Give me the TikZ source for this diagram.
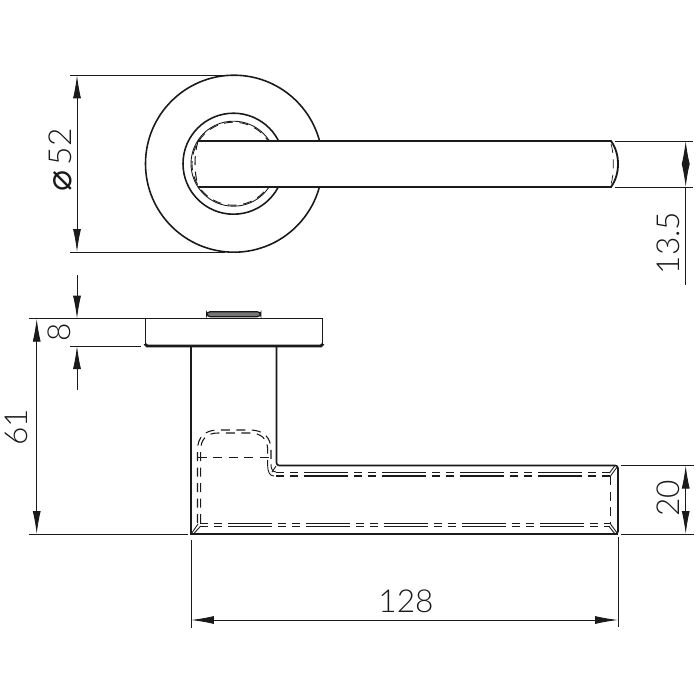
\documentclass[tikz,border=0pt]{standalone}
\usepackage{fontspec}
\setmainfont{Lato Light}
\newfontfamily\symfont{DejaVu Sans}
\usetikzlibrary{arrows.meta}
\definecolor{LINE_BLACK}{HTML}{1A1A1A}
\tikzset{
  outline/.style={line width=0.9pt, LINE_BLACK},
  hidden/.style={line width=0.6pt, LINE_BLACK, dash pattern=on 0.18cm off 0.13cm},
  hiddenlong/.style={line width=0.6pt, LINE_BLACK, dash pattern=on 0.16cm off 0.12cm on 0.16cm off 0.12cm on 0.88cm off 0.12cm},
  thinline/.style={line width=0.5pt, LINE_BLACK},
  dimline/.style={line width=0.5pt, LINE_BLACK},
  dimtip/.style={-{Latex[length=0.46cm,width=0.16cm]}},
  dimboth/.style={{Latex[length=0.46cm,width=0.16cm]}-{Latex[length=0.46cm,width=0.16cm]}},
  dimtext/.style={font=\fontsize{18}{18}\selectfont, text=LINE_BLACK, inner sep=0pt}
}
\begin{document}
\begin{tikzpicture}[x=0.02cm, y=-0.02cm]
      \useasboundingbox (0,0) rectangle (700,700);

      % Rose, front view
      \draw[outline] (234,163.7) circle[radius=88.5];
      \draw[outline] (233.5,163.7) circle[radius=50.5];
      \draw[thinline] (233.5,163.7) circle[radius=42.5];
      \draw[hidden, line width=0.5pt] (233.5,163.7) circle[radius=41.5];

      % Lever, front view
      \fill[white] (198,141) rectangle (612,187);
      \draw[outline, line width=1.05pt] (198,141) -- (611,141) .. controls (616,148) and (618,156) .. (618,164) .. controls (618,172) and (616,180) .. (611,187) -- (198,187);
      \draw[hidden] (198,141) .. controls (194,155) and (194,172) .. (198,186);
      \draw[hidden, line width=0.4pt] (611,144) .. controls (614,152) and (614,176) .. (611,184);

      % Diameter
      \draw[dimline] (70,75.3) -- (225,75.3);
      \draw[dimline] (70,252) -- (225,252);
      \draw[dimline, dimboth] (77,75.3) -- (77,252);
      \node[dimtext, rotate=90] (diam) at (60,160) {{\symfont\fontsize{20}{20}\selectfont\char"2300}\,52};

      % Lever width
      \draw[dimline] (615,141) -- (693,141);
      \draw[dimline] (615,187) -- (693,187);
      \draw[dimline, dimboth] (685.7,141) -- (685.7,187);
      \draw[dimline] (685.7,187) -- (685.7,285);
      \node[dimtext, rotate=90] (lever) at (668,243) {13.5};

      % Rose, side view
      \draw[outline] (145.3,346) -- (145.3,318.7) -- (322.7,318.7) -- (322.7,346);
      \draw[outline, line width=1.6pt, rounded corners=1pt] (145.3,344) -- (145.3,346) -- (322.7,346) -- (322.7,344);
      \draw[LINE_BLACK, line width=0.7pt, fill=LINE_BLACK!60, rounded corners=2pt] (206.7,311.7) rectangle (260.7,316.7);
      \draw[thinline] (210,318) -- (258,318);

      % Lever, side view
      \draw[outline] (191,346) -- (191,534) -- (618,534);
      \draw[outline, rounded corners=1.5pt] (276.5,346) -- (276.5,465.5) -- (618,465.5) -- (618,534) -- (610,534);

      % Hidden edges
      \draw[hidden] (197.5,523) -- (197.5,450) .. controls (197.5,437) and (205,430) .. (218,430) -- (250,430) .. controls (263,430) and (271,437) .. (271,450) -- (271,464);
      \draw[hidden] (200.7,523) -- (200.7,450) .. controls (200.7,439) and (207,433) .. (218,433) -- (250,433) .. controls (261,433) and (267.7,439) .. (267.7,450) -- (267.7,466);
      \draw[hidden, line width=0.5pt] (198,457) -- (271,457);
      \draw[thinline] (267.7,466) .. controls (267.7,472) and (270,476) .. (274,476);
      \draw[thinline] (271,464) .. controls (271,468) and (272,472) .. (276,472);
      \draw[thinline] (276,466) -- (272,472);
      \draw[hiddenlong] (276,472.3) -- (610,472.3);
      \draw[hiddenlong] (276,476) -- (610,476);
      \draw[hiddenlong] (200,523.3) -- (610,523.3);
      \draw[hiddenlong] (200,526.7) -- (610,526.7);
      \draw[hidden] (610.7,476) -- (610.7,524);
      \draw[thinline] (191.5,533.5) -- (198,524);
      \draw[thinline] (193.5,534) -- (200.7,526);
      \draw[thinline] (617.5,466.5) -- (610.5,476);
      \draw[thinline] (615,465.5) -- (609.5,473);
      \draw[thinline] (617.5,533.5) -- (610.5,524);
      \draw[thinline] (615,534) -- (609.5,527);

      % Rose thickness
      \draw[dimline] (29,318.7) -- (145,318.7);
      \draw[dimline] (70,346) -- (141,346);
      \draw[dimline, dimtip] (77,275) -- (77,318.7);
      \draw[dimline, dimtip] (77,390) -- (77,346);
      \node[dimtext, rotate=90] (rose) at (59,332.7) {8};

      % Projection
      \draw[dimline] (29,534) -- (188,534);
      \draw[dimline, dimboth] (36.7,318.7) -- (36.7,534);
      \node[dimtext, rotate=90] (proj) at (16,427) {61};

      % Lever height
      \draw[dimline] (621,465.5) -- (694,465.5);
      \draw[dimline] (621,534) -- (694,534);
      \draw[dimline, dimboth] (685.7,465.5) -- (685.7,534);
      \node[dimtext, rotate=90] (height) at (668,498) {20};

      % Length
      \draw[dimline] (191,540) -- (191,628);
      \draw[dimline] (618,537) -- (618,627);
      \draw[dimline, dimboth] (191,620) -- (618,620);
      \node[dimtext] (length) at (406,601) {128};
    \end{tikzpicture}
\end{document}
